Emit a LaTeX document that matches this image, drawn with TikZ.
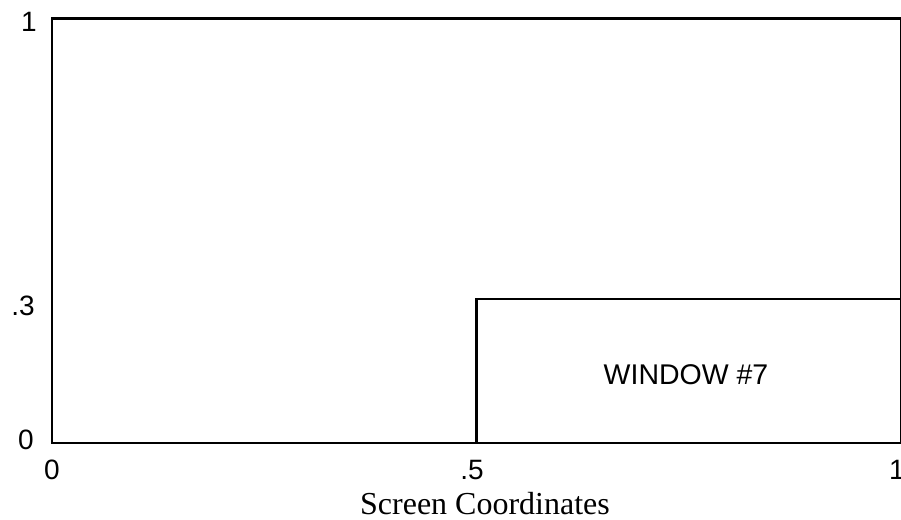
\documentclass[tikz,border=0pt]{standalone}
\usepackage{fontspec}
\setmainfont{Liberation Serif}
\newfontfamily\labelfont{Liberation Sans}
\begin{document}
\begin{tikzpicture}[x=1pt,y=-1pt,
  frame/.style={draw=black,line width=2.8pt},
  tick/.style={inner sep=0pt,font=\labelfont\fontsize{28}{30}\selectfont},
  wlabel/.style={inner sep=0pt,font=\labelfont\fontsize{28.5}{30}\selectfont},
  caption/.style={inner sep=0pt,font=\fontsize{32}{34}\selectfont}]
\useasboundingbox (0,0) rectangle (901,519);
% screen
\coordinate (s00) at (52,443);
\coordinate (s11) at (901,18.5);
\draw[frame] (s00) rectangle (s11);
% window
\coordinate (w00) at (476.5,443);
\coordinate (w11) at (901,299);
\draw[frame] (w00) rectangle (w11);
% vertical labels
\node[tick,anchor=base east] (y1) at (37,32) {1};
\node[tick,anchor=base east] (y3) at (35,315) {.3};
\node[tick,anchor=base east] (y0) at (34,449) {0};
% horizontal labels
\node[tick,anchor=base] (x0) at (52,479) {0};
\node[tick,anchor=base] (x5) at (472,479) {.5};
\node[tick,anchor=base] (x1) at (897,479) {1};
% texts
\node[wlabel,anchor=base] (win) at (686,384) {WINDOW \#7};
\node[caption,anchor=base] (cap) at (485,514) {Screen Coordinates};
\end{tikzpicture}
\end{document}
